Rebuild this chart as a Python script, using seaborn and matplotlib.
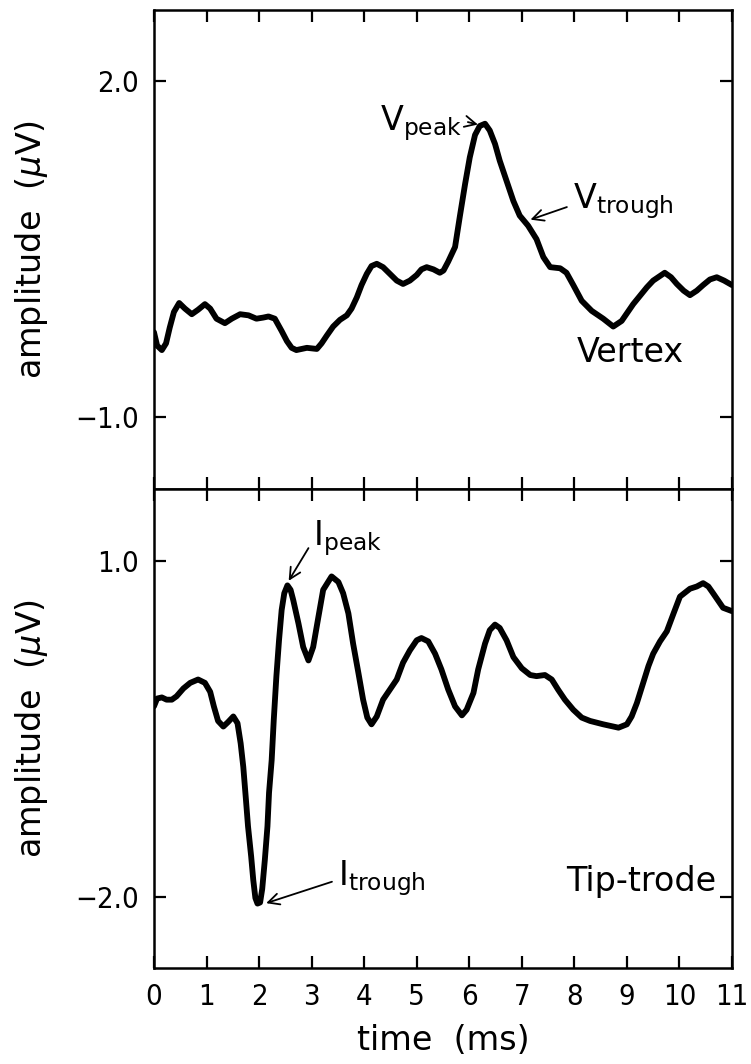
import matplotlib
matplotlib.use("Agg")
import matplotlib.pyplot as plt
import pandas as pd
import seaborn as sns

# Averaged responses: time in ms, amplitude in microvolts
vertex_time = [0.00, 0.06, 0.15, 0.23, 0.30, 0.38, 0.48, 0.59, 0.72, 0.84,
               0.97, 1.07, 1.19, 1.35, 1.48, 1.64, 1.80, 1.95, 2.08, 2.18,
               2.30, 2.43, 2.53, 2.62, 2.71, 2.91, 3.10, 3.19, 3.29, 3.41,
               3.54, 3.67, 3.76, 3.86, 3.95, 4.05, 4.14, 4.24, 4.36, 4.49,
               4.62, 4.74, 4.87, 5.00, 5.09, 5.19, 5.32, 5.44, 5.51, 5.60,
               5.68, 5.73, 5.82, 5.92, 6.01, 6.11, 6.20, 6.30, 6.39, 6.49,
               6.58, 6.71, 6.84, 6.96, 7.12, 7.28, 7.41, 7.54, 7.73, 7.85,
               7.98, 8.14, 8.33, 8.55, 8.74, 8.90, 9.12, 9.38, 9.50, 9.72,
               9.84, 9.95, 10.08, 10.20, 10.33, 10.45, 10.58, 10.71, 10.85, 11.00]
vertex_amp = [-0.24, -0.36, -0.40, -0.34, -0.20, -0.06, 0.02, -0.03, -0.08, -0.04,
              0.01, -0.03, -0.12, -0.16, -0.12, -0.08, -0.09, -0.12, -0.11, -0.10,
              -0.12, -0.23, -0.32, -0.38, -0.40, -0.38, -0.39, -0.34, -0.27, -0.19,
              -0.13, -0.09, -0.03, 0.07, 0.18, 0.28, 0.35, 0.37, 0.34, 0.28,
              0.22, 0.19, 0.22, 0.27, 0.32, 0.34, 0.32, 0.29, 0.31, 0.39,
              0.47, 0.52, 0.79, 1.08, 1.32, 1.52, 1.60, 1.62, 1.56, 1.44,
              1.29, 1.11, 0.93, 0.80, 0.71, 0.59, 0.43, 0.34, 0.33, 0.29,
              0.18, 0.04, -0.05, -0.12, -0.19, -0.14, 0.01, 0.16, 0.22, 0.29,
              0.25, 0.19, 0.13, 0.09, 0.13, 0.18, 0.23, 0.25, 0.22, 0.18]

tiptrode_time = [0.00, 0.06, 0.15, 0.24, 0.34, 0.43, 0.56, 0.69, 0.84, 0.97,
                 1.07, 1.14, 1.22, 1.32, 1.41, 1.51, 1.59, 1.65, 1.70, 1.75,
                 1.79, 1.85, 1.89, 1.93, 1.97, 2.02, 2.06, 2.11, 2.16, 2.19,
                 2.24, 2.28, 2.33, 2.38, 2.43, 2.48, 2.54, 2.60, 2.65, 2.75,
                 2.84, 2.94, 3.03, 3.13, 3.22, 3.38, 3.51, 3.60, 3.70, 3.79,
                 3.89, 3.98, 4.06, 4.14, 4.24, 4.36, 4.49, 4.62, 4.74, 4.87,
                 5.00, 5.09, 5.22, 5.35, 5.47, 5.60, 5.73, 5.86, 5.95, 6.08,
                 6.17, 6.30, 6.39, 6.49, 6.58, 6.71, 6.84, 7.00, 7.16, 7.28,
                 7.44, 7.57, 7.69, 7.82, 7.98, 8.14, 8.30, 8.55, 8.84, 9.00,
                 9.09, 9.19, 9.31, 9.41, 9.50, 9.63, 9.76, 9.88, 10.01, 10.20,
                 10.33, 10.45, 10.55, 10.64, 10.83, 11.00]
tiptrode_amp = [-0.30, -0.23, -0.22, -0.24, -0.24, -0.21, -0.14, -0.09, -0.06, -0.09,
                -0.17, -0.30, -0.43, -0.48, -0.44, -0.39, -0.45, -0.63, -0.84, -1.13,
                -1.37, -1.64, -1.85, -2.01, -2.06, -2.05, -1.93, -1.67, -1.37, -1.07,
                -0.78, -0.42, -0.03, 0.29, 0.56, 0.71, 0.78, 0.74, 0.65, 0.44,
                0.23, 0.11, 0.23, 0.50, 0.74, 0.86, 0.81, 0.71, 0.53, 0.26,
                0.00, -0.24, -0.40, -0.46, -0.39, -0.24, -0.15, -0.06, 0.09, 0.20,
                0.29, 0.31, 0.28, 0.17, 0.03, -0.15, -0.30, -0.38, -0.33, -0.18,
                0.03, 0.26, 0.38, 0.43, 0.40, 0.29, 0.14, 0.04, -0.02, -0.03,
                -0.02, -0.06, -0.15, -0.24, -0.33, -0.40, -0.43, -0.46, -0.49, -0.46,
                -0.39, -0.27, -0.09, 0.06, 0.17, 0.28, 0.37, 0.52, 0.68, 0.75,
                0.77, 0.80, 0.77, 0.71, 0.58, 0.55]

time_ticks = list(range(12))
vertex_yticks = [-1.0, 2.0]
tiptrode_yticks = [-2.0, 1.0]

sns.set_theme(style="ticks")
plt.rcParams.update({
    "font.family": ["DejaVu Sans"],
    "mathtext.fontset": "dejavusans",
    "text.color": "black",
    "axes.labelcolor": "black",
    "axes.edgecolor": "black",
    "axes.linewidth": 1.8,
    "xtick.direction": "in",
    "ytick.direction": "in",
    "xtick.major.size": 8.5,
    "ytick.major.size": 8.5,
    "xtick.major.width": 1.6,
    "ytick.major.width": 1.6,
    "xtick.color": "black",
    "ytick.color": "black",
    "xtick.major.pad": 11,
    "ytick.major.pad": 11,
})

vertex_df = pd.DataFrame({"time": vertex_time, "amp": vertex_amp})
tip_df = pd.DataFrame({"time": tiptrode_time, "amp": tiptrode_amp})

fig = plt.figure(figsize=(7.51, 10.64), dpi=100)
gs = fig.add_gridspec(2, 1, left=0.205, right=0.9747, top=0.9906,
                      bottom=0.0902, hspace=0)
ax1 = fig.add_subplot(gs[0])
ax2 = fig.add_subplot(gs[1], sharex=ax1)

line_kw = dict(color="black", linewidth=4.2, sort=False, estimator=None)
sns.lineplot(data=vertex_df, x="time", y="amp", ax=ax1, **line_kw)
sns.lineplot(data=tip_df, x="time", y="amp", ax=ax2, **line_kw)
for ax in (ax1, ax2):
    for ln in ax.get_lines():
        ln.set_solid_joinstyle("round")
        ln.set_solid_capstyle("round")

tick_font = dict(family="DejaVu Sans", stretch="condensed", size=21)

for ax, yt, ylim in ((ax1, vertex_yticks, (-1.64, 2.635)),
                     (ax2, tiptrode_yticks, (-2.635, 1.64))):
    ax.set_xlim(0, 11)
    ax.set_ylim(*ylim)
    ax.set_xticks(time_ticks)
    ax.set_yticks(yt)
    ax.set_yticklabels([f"{v:.1f}".replace("-", "\u2212") for v in yt],
                       fontdict=tick_font)
    ax.tick_params(top=True, right=True, bottom=True, left=True)
    ax.set_ylabel("amplitude  ($\\mu$V)", fontsize=24)
    ax.yaxis.set_label_coords(-0.18, 0.5)
    for sp in ax.spines.values():
        sp.set_visible(True)
        sp.set_color("black")
        sp.set_linewidth(1.8)

ax1.tick_params(labelbottom=False)
ax1.set_xlabel("")
ax2.set_xticklabels([str(t) for t in time_ticks], fontdict=tick_font)
ax2.set_xlabel("time  (ms)", fontsize=24)
ax2.xaxis.set_label_coords(0.5, -0.117)

arrow = dict(arrowstyle="->", color="black", lw=1.3, mutation_scale=20,
             shrinkA=2, shrinkB=1)

ax1.annotate("$\\mathregular{V_{peak}}$", xy=(6.19, 1.61), xytext=(5.86, 1.63),
             ha="right", va="center", fontsize=24,
             arrowprops=dict(arrow, relpos=(1.0, 0.55)))
ax1.annotate("$\\mathregular{V_{trough}}$", xy=(7.14, 0.76), xytext=(7.97, 0.93),
             ha="left", va="center", fontsize=24,
             arrowprops=dict(arrow, relpos=(0.0, 0.4)))
ax1.text(9.06, -0.42, "Vertex", ha="center", va="center", fontsize=24)

ax2.annotate("$\\mathregular{I_{peak}}$", xy=(2.55, 0.81), xytext=(3.03, 1.20),
             ha="left", va="center", fontsize=24,
             arrowprops=dict(arrow, relpos=(0.0, 0.45)))
ax2.annotate("$\\mathregular{I_{trough}}$", xy=(2.11, -2.06), xytext=(3.50, -1.83),
             ha="left", va="center", fontsize=24,
             arrowprops=dict(arrow, relpos=(0.0, 0.45)))
ax2.text(9.27, -1.86, "Tip-trode", ha="center", va="center", fontsize=24)

fig.savefig("out.png", dpi=100)
